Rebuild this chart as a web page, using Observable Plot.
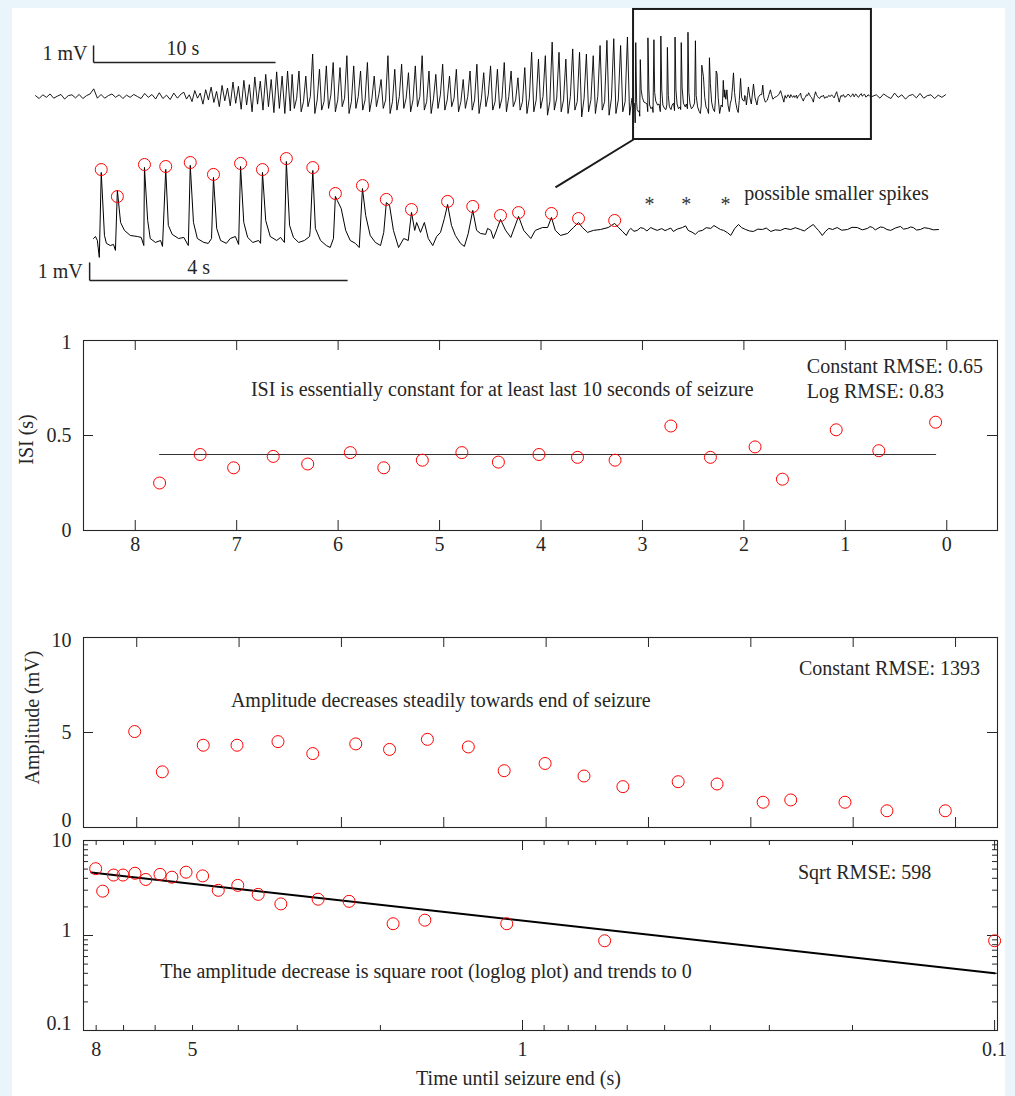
<!DOCTYPE html>
<html><head><meta charset="utf-8">
<script src="https://cdn.jsdelivr.net/npm/d3@7"></script>
<script src="https://cdn.jsdelivr.net/npm/@observablehq/plot@0.6"></script>
<style>
html,body{margin:0;padding:0;background:#e9f4fb;}
#fig{position:relative;width:1015px;height:1096px;background:#e9f4fb;overflow:hidden;}
#panel{position:absolute;left:12px;top:8px;width:993px;height:1088px;background:#ffffff;}
</style></head>
<body><div id="fig"><div id="panel"></div></div>
<script>
// ---------------- DATA ----------------
// Overview EEG trace (mV), sampled segments (s)
const noiseStep = 0.2;
const noiseV = [0.05,-0.12,0.1,-0.05,0.15,-0.1,0.02,0.12,-0.15,0.05,0.1,-0.08,0.12,-0.12,0.05,0.15,0.45,-0.1,0.12,-0.1,0.05,0.15,-0.05,0.1,-0.12,0.08,-0.05,0.12,0.0,-0.12,0.18,-0.05,0.12,-0.15,0.22,-0.12,0.08,-0.18,0.2,-0.1,0.15];
const rampStart = 8.0, rampStep = 0.15;
const rampV = [0.25,-0.15,0.1,-0.3,0.35,-0.1,0.2,-0.45,0.4,-0.2,0.55,-0.35,0.3,-0.6,0.65,-0.25,0.5,-0.55,0.85,-0.4,0.6,-0.75,0.95,-0.5,0.7,-0.9,1.15,-0.45,0.9,-0.8,1.3,-0.6,1.0,-0.95,1.45,-0.7,1.2,-1.0,1.5,-0.85];
const spikeStart = 14.1, spikePeriod = 0.376;
const spikePeakV = [1.3,1.5,1.2,2.5,1.6,1.8, 2.0,1.7,2.4,1.8,1.5,2.0, 1.2,1.0,2.4,1.6,1.9, 1.4,1.8,2.4,1.5,1.3,1.9, 1.2,1.6,1.0,1.5,1.9,1.4, 1.8,1.6,2.0,1.5,1.1,1.7, 2.6,2.2,2.4,3.2,2.6,2.2, 2.8,2.6,2.5,2.4,3.0,3.3, 3.4,3.0,3.5];
const spikeTroughV = [-0.7,-0.9,-0.6,-1.0,-0.8,-0.7, -0.9,-0.6,-1.0,-0.7,-0.8,-0.9, -0.6,-0.7,-1.0,-0.8,-0.7, -0.9,-0.6,-0.8,-1.0,-0.7,-0.8, -0.6,-0.9,-0.7,-0.8,-1.0,-0.6, -0.8,-0.7,-0.9,-0.6,-0.8,-1.0, -0.9,-0.7,-1.1,-0.8,-0.9,-1.0, -0.8,-1.2,-0.9,-1.0,-0.8,-1.1, -1.0,-0.9,-1.1];
const spikeBaseV = [-0.1,-0.3,0.0,-0.2,-0.3,0.1, -0.2,-0.1,-0.3,0.0,-0.2,-0.1, 0.1,-0.2,-0.3,0.0,-0.1, -0.2,0.0,-0.3,-0.1,0.1,-0.2, -0.1,-0.3,0.0,-0.2,-0.1,0.1, -0.3,-0.1,0.0,-0.2,-0.3,-0.1, -0.2,0.0,-0.3,-0.1,-0.2,0.0, -0.3,-0.1,-0.2,0.0,-0.3,-0.1, -0.2,-0.3,-0.1];
const boxStartT = 32.86, boxEndT = 45.93;   // zoomed window within overview (s)
const postStart = 46.2, postStep = 0.2;
const postV = [0.1,-0.1,0.15,0.0,-0.12,0.2,-0.05,0.1,-0.15,0.05,0.12,-0.08,0.18,-0.1,0.05,0.1,-0.12,0.08,-0.05,0.1];

// Zoomed trace (s from window start, mV)
const zoomT = [0.00,0.03,0.06,0.09,0.12,0.17,0.20,0.26,0.31,0.34,0.37,0.42,0.48,0.57,0.68,0.74,0.78,0.79,0.84,0.88,
0.96,1.04,1.07,1.12,1.16,1.22,1.32,1.40,1.47,1.50,1.55,1.61,1.71,1.78,1.83,1.86,1.91,1.97,2.06,2.12,
2.20,2.25,2.28,2.33,2.39,2.47,2.56,2.59,2.62,2.67,2.74,2.84,2.90,2.96,2.99,3.04,3.10,3.18,3.27,3.35,
3.36,3.40,3.44,3.52,3.61,3.67,3.72,3.75,3.78,3.84,3.91,3.98,4.06,4.12,4.17,4.22,4.29,4.37,4.45,4.50,
4.54,4.59,4.65,4.73,4.81,4.88,4.93,4.98,5.01,5.07,5.13,5.19,5.26,5.32,5.38,5.44,5.49,5.55,5.61,5.69,
5.75,5.81,5.88,5.94,6.00,6.08,6.11,6.16,6.20,6.26,6.31,6.39,6.47,6.59,6.67,6.78,6.85,6.96,7.04,7.10,
7.16,7.24,7.35,7.44,7.52,7.58,7.66,7.75,7.86,7.98,8.08,
8.14,8.20,8.26,8.30,8.33,8.38,8.43,8.48,8.53,8.58,8.64,8.69,8.74,8.81,8.86,8.90,8.95,8.99,9.05,9.13,
9.18,9.22,9.28,9.33,9.38,9.44,9.50,9.57,9.62,9.67,9.72,9.77,9.83,9.88,9.94,10.00,10.05,10.11,10.17,10.23,
10.30,10.37,10.43,10.50,10.57,10.65,10.72,10.81,10.88,10.96,11.02,11.09,11.16,11.20,11.24,11.30,11.35,11.40,11.46,11.53,
11.60,11.69,11.76,11.84,11.92,12.00,12.04,12.08,12.12,12.16,12.20,12.25,12.30,12.36,12.43,12.51,12.56,12.62,12.67,12.71,
12.76,12.82,12.88,12.95,13.02,13.10];
const zoomV = [-0.50,-0.39,-0.61,-1.55,3.17,-0.33,-0.77,-0.89,-0.83,-1.16,2.17,0.39,-0.05,-0.33,-0.39,-0.44,-0.89,3.45,0.50,-0.50,
-0.72,-0.61,-0.94,3.34,0.23,-0.27,-0.50,-0.44,-0.89,3.56,0.39,-0.50,-0.72,-0.77,-0.50,2.89,0.06,-0.61,-0.77,-0.50,
-0.39,-0.83,3.50,0.39,-0.44,-0.72,-0.61,-0.77,3.17,0.50,-0.39,-0.61,-0.44,-0.72,3.78,0.23,-0.44,-0.72,-0.61,-0.39,
-0.05,3.28,0.06,-0.61,-0.89,-1.00,-0.50,1.84,1.61,1.17,-0.05,-0.61,-0.77,-1.00,2.28,0.78,-0.33,-0.72,-0.89,-0.16,
1.50,1.34,-0.05,-1.00,-0.50,-0.61,0.95,-0.05,0.39,-0.16,0.39,-0.50,-0.89,-0.39,-0.16,0.61,1.39,0.23,-0.33,-0.77,
-0.94,-0.22,1.06,-0.05,-0.22,-0.27,0.06,-0.05,-0.50,0.06,0.56,-0.05,-0.44,0.73,-0.05,-0.50,-0.05,0.11,0.11,0.67,
-0.05,-0.33,-0.22,0.11,0.39,0.11,-0.16,-0.05,0.00,0.11,0.34,
0.11,-0.10,-0.33,-0.05,0.06,-0.10,-0.05,0.10,0.06,-0.08,0.11,0.02,-0.05,0.05,-0.06,0.00,0.08,-0.11,0.02,0.11,
0.20,-0.05,-0.15,-0.27,-0.10,-0.05,0.10,0.06,0.22,0.11,0.00,-0.05,-0.18,-0.33,0.05,0.28,0.10,0.00,-0.08,-0.11,
0.02,0.00,0.08,-0.11,-0.02,-0.05,0.06,0.00,0.10,0.00,-0.08,0.11,0.28,0.10,-0.05,-0.33,-0.10,0.06,0.00,0.11,
-0.04,0.00,0.12,0.11,-0.02,0.06,0.16,0.11,-0.02,0.06,0.14,0.11,0.00,-0.05,0.08,0.17,0.02,0.06,0.14,0.11,
-0.03,0.00,0.10,0.06,-0.02,0.00];
// Detected spike peaks in zoomed trace (s, mV)
const peakT = [0.12,0.37,0.79,1.12,1.50,1.86,2.28,2.62,2.99,3.40,3.75,4.17,4.54,4.93,5.49,5.88,6.31,6.59,7.10,7.52,8.08];
const peakV = [3.33,1.83,3.61,3.50,3.72,3.06,3.67,3.33,3.94,3.44,2.00,2.44,1.67,1.11,1.56,1.28,0.78,0.94,0.89,0.61,0.50];
const smallSpikeT = [8.62,9.19,9.80];

// ISI panel
const isiT = [7.76,7.36,7.03,6.64,6.30,5.88,5.55,5.17,4.78,4.42,4.02,3.64,3.27,2.72,2.33,1.89,1.62,1.09,0.67,0.11];
const isiV = [0.25,0.40,0.33,0.39,0.35,0.41,0.33,0.37,0.41,0.36,0.40,0.385,0.37,0.55,0.385,0.44,0.27,0.53,0.42,0.57];
const isiFitT = [7.76,0.11];
const isiFitV = [0.40,0.40];
const isiXTicks = [8,7,6,5,4,3,2,1,0];
const isiYTicks = [0,0.5,1];

// Amplitude panels
const spikeT = [8.02,7.75,7.35,7.02,6.62,6.28,5.86,5.53,5.16,4.76,4.41,4.01,3.63,3.25,2.71,2.33,1.88,1.61,1.08,0.67,0.10];
const ampV = [5.05,2.93,4.33,4.33,4.52,3.89,4.40,4.11,4.64,4.24,2.99,3.37,2.71,2.15,2.41,2.29,1.33,1.45,1.33,0.88,0.88];
const ampYTicks = [0,5,10];
const sqrtFitT = [8.19,0.1];
const sqrtFitV = [4.6,0.4];
const logXMajor = [1,0.1];
const logXMinor = [8,7,6,5,4,3,2,0.9,0.8,0.7,0.6,0.5,0.4,0.3,0.2];
const logXLabels = [8,5,1,0.1];
const logYMajor = [0.1,1,10];
const logYMinor = [0.2,0.3,0.4,0.5,0.6,0.7,0.8,0.9,2,3,4,5,6,7,8,9];

// Texts
const isiYLabel = "ISI (s)";
const isiNote = "ISI is essentially constant for at least last 10 seconds of seizure";
const isiRmse = ["Constant RMSE: 0.65","Log RMSE: 0.83"];
const ampYLabel = "Amplitude (mV)";
const ampNote = "Amplitude decreases steadily towards end of seizure";
const ampRmse = "Constant RMSE: 1393";
const logRmse = "Sqrt RMSE: 598";
const logNote = "The amplitude decrease is square root (loglog plot) and trends to 0";
const xLabel = "Time until seizure end (s)";
const smallNote = "possible smaller spikes";

// ---------------- DRAW ----------------
const W = 1015, ML = 83, MR = 18, FW = W - ML - MR;
const ink = "#262626";
const serif = "Liberation Serif, Times New Roman, serif";
const T = {fontFamily: serif, fontSize: 20, fill: ink};
const ST = "background:transparent;overflow:visible;max-width:none;";
const fig = document.getElementById("fig");
function place(svg, top) {
  svg.style.position = "absolute"; svg.style.left = "0px"; svg.style.top = top + "px";
  fig.appendChild(svg);
}

// overview trace table
const topRows = [];
noiseV.forEach((v, i) => topRows.push({t: i * noiseStep, v}));
rampV.forEach((v, i) => topRows.push({t: rampStart + (i + 1) * rampStep, v}));
spikePeakV.forEach((p, i) => {
  const t0 = spikeStart + i * spikePeriod;
  topRows.push({t: t0, v: p}, {t: t0 + 0.12, v: spikeTroughV[i]}, {t: t0 + 0.25, v: spikeBaseV[i]});
});
zoomT.forEach((t, i) => topRows.push({t: boxStartT + t, v: zoomV[i]}));
postV.forEach((v, i) => topRows.push({t: postStart + i * postStep, v}));

const topPlot = Plot.plot({
  width: W, height: 300, margin: 0, style: ST,
  x: {domain: [-35 / 18.2, (W - 35) / 18.2], axis: null},
  y: {domain: [-204 / 17, 96 / 17], axis: null},
  marks: [
    Plot.line(topRows, {x: "t", y: "v", stroke: "#000", strokeWidth: 0.9}),
    Plot.rect([{a: boxStartT, b: boxEndT}], {x1: "a", x2: "b", y1: -2.53, y2: 5.12, fill: "none", stroke: "#1a1a1a", strokeWidth: 2}),
    Plot.link([{a: boxStartT}], {x1: "a", y1: -2.53, x2: 28.57, y2: -5.35, stroke: "#1a1a1a", strokeWidth: 2}),
    Plot.link([0], {x1: 3.19, x2: 3.19, y1: 2.0, y2: 3.0, stroke: "#222", strokeWidth: 1.5}),
    Plot.link([0], {x1: 3.19, x2: 13.19, y1: 2.0, y2: 2.0, stroke: "#222", strokeWidth: 1.5}),
    Plot.text(["1 mV"], {x: 3.19, y: 2.5, dx: -6, textAnchor: "end", ...T}),
    Plot.text(["10 s"], {x: 8.1, y: 2.82, ...T})
  ]
});
place(topPlot, 0);

const zoomRows = zoomT.map((t, i) => ({t, v: zoomV[i]}));
const peakRows = peakT.map((t, i) => ({t, v: peakV[i]}));
const zoomPlot = Plot.plot({
  width: W, height: 300, margin: 0, style: ST,
  x: {domain: [-93 / 64.5, (W - 93) / 64.5], axis: null},
  y: {domain: [-71 / 18, 229 / 18], axis: null},
  marks: [
    Plot.line(zoomRows, {x: "t", y: "v", stroke: "#000", strokeWidth: 1}),
    Plot.dot(peakRows, {x: "t", y: "v", r: 6, stroke: "#ff0000", fill: "none", strokeWidth: 1}),
    Plot.text(smallSpikeT, {x: d => d, y: 1.4, text: () => "*", ...T, fill: "#333"}),
    Plot.text([smallNote], {x: 10.09, y: 2.0, textAnchor: "start", ...T}),
    Plot.link([0], {x1: -0.06, x2: -0.06, y1: -2.83, y2: -1.83, stroke: "#222", strokeWidth: 1.5}),
    Plot.link([0], {x1: -0.06, x2: 3.94, y1: -2.83, y2: -2.83, stroke: "#222", strokeWidth: 1.5}),
    Plot.text(["1 mV"], {x: -0.06, y: -2.33, dx: -7, textAnchor: "end", ...T}),
    Plot.text(["4 s"], {x: 1.63, y: -2.11, ...T})
  ]
});
place(zoomPlot, 0);

// inward ticks helper
function boxTicks(xt, yt, fh, len, xAcc = d => d, yAcc = d => d) {
  const m = [];
  if (xt) m.push(
    Plot.tickX(xt, {x: xAcc, insetTop: fh - len, stroke: ink}),
    Plot.tickX(xt, {x: xAcc, insetBottom: fh - len, stroke: ink}));
  if (yt) m.push(
    Plot.tickY(yt, {y: yAcc, insetRight: FW - len, stroke: ink}),
    Plot.tickY(yt, {y: yAcc, insetLeft: FW - len, stroke: ink}));
  return m;
}
function yLabels(ticks, shifts) {
  return ticks.map((d, i) => Plot.text([d], {y: d => d, text: d => String(d), frameAnchor: "left", textAnchor: "end", dx: -12, dy: shifts[i], ...T}));
}

// ISI panel
const FH = 190;
const isiRows = isiT.map((t, i) => ({t, v: isiV[i]}));
const isiPlot = Plot.plot({
  width: W, height: 240, marginTop: 10, marginBottom: 40, marginLeft: ML, marginRight: MR, style: ST,
  x: {domain: [8.51, -0.5], axis: null},
  y: {domain: [0, 1], axis: null},
  marks: [
    Plot.frame({stroke: ink, strokeWidth: 1.1}),
    ...boxTicks(isiXTicks, isiYTicks, FH, 10),
    Plot.line(isiFitT.map((t, i) => ({t, v: isiFitV[i]})), {x: "t", y: "v", stroke: "#333", strokeWidth: 1.2}),
    Plot.dot(isiRows, {x: "t", y: "v", r: 6, stroke: "#ff0000", fill: "none", strokeWidth: 1}),
    Plot.text(isiXTicks, {x: d => d, frameAnchor: "bottom", dy: 20, ...T}),
    ...yLabels(isiYTicks, [0, 0, 2]),
    Plot.text([isiYLabel], {frameAnchor: "left", textAnchor: "middle", dx: -57, dy: 4, rotate: -90, ...T}),
    Plot.text([isiNote], {x: 6.86, y: 0.742, textAnchor: "start", ...T}),
    Plot.text(isiRmse, {x: 1.38, y: (d, i) => [0.863, 0.731][i], textAnchor: "start", ...T})
  ]
});
place(isiPlot, 330);

// Amplitude panel (linear)
const ampRows = spikeT.map((t, i) => ({t, v: ampV[i]}));
const ampPlot = Plot.plot({
  width: W, height: 203, marginTop: 10, marginBottom: 3, marginLeft: ML, marginRight: MR, style: ST,
  x: {domain: [8.52, -0.41], axis: null},
  y: {domain: [0, 10], axis: null},
  marks: [
    Plot.frame({stroke: ink, strokeWidth: 1.1}),
    ...boxTicks(isiXTicks, ampYTicks, FH, 10),
    Plot.dot(ampRows, {x: "t", y: "v", r: 6, stroke: "#ff0000", fill: "none", strokeWidth: 1}),
    ...yLabels(ampYTicks, [-7, 0, 3]),
    Plot.text([ampYLabel], {y: 5.79, frameAnchor: "left", textAnchor: "middle", dx: -51, rotate: -90, ...T}),
    Plot.text([ampNote], {x: 7.08, y: 6.68, textAnchor: "start", ...T}),
    Plot.text([ampRmse], {x: 1.53, y: 8.37, textAnchor: "start", ...T})
  ]
});
place(ampPlot, 627);

// Amplitude panel (log-log)
const logPlot = Plot.plot({
  width: W, height: 266, marginTop: 10, marginBottom: 66, marginLeft: ML, marginRight: MR, style: ST,
  x: {type: "log", domain: [8.51, 0.0986], axis: null},
  y: {type: "log", domain: [0.1, 10], axis: null},
  marks: [
    Plot.frame({stroke: ink, strokeWidth: 1.1}),
    ...boxTicks(logXMajor, logYMajor, FH, 10),
    ...boxTicks(logXMinor, logYMinor, FH, 5),
    Plot.line(sqrtFitT.map((t, i) => ({t, v: sqrtFitV[i]})), {x: "t", y: "v", stroke: "#000", strokeWidth: 2}),
    Plot.dot(ampRows, {x: "t", y: "v", r: 6, stroke: "#ff0000", fill: "none", strokeWidth: 1}),
    Plot.text(logXLabels, {x: d => d, frameAnchor: "bottom", dy: 25, text: d => String(d), ...T}),
    ...yLabels(logYMajor, [-7, -5, 0]),
    Plot.text([logRmse], {x: 0.261, y: 4.6, textAnchor: "start", ...T}),
    Plot.text([logNote], {x: 5.85, y: 0.418, textAnchor: "start", ...T}),
    Plot.text([xLabel], {x: 1.02, frameAnchor: "bottom", dy: 54, ...T})
  ]
});
place(logPlot, 830);
</script>
</body></html>
